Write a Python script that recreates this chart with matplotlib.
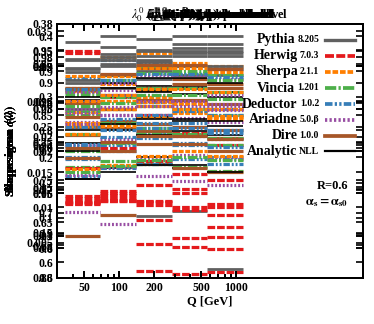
import matplotlib
matplotlib.use("Agg")
import matplotlib.pyplot as plt
from matplotlib.ticker import FixedLocator, NullFormatter

plt.rcParams['font.family'] = ['Liberation Serif', 'DejaVu Serif']
plt.rcParams['mathtext.fontset'] = 'stix'

# Q bin edges [GeV]
bin_edges = [34.4, 68.6, 139.0, 282.0, 562.0, 1143.0]

generators = ["Pythia", "Herwig", "Sherpa", "Vincia", "Deductor", "Ariadne", "Dire", "Analytic"]
versions = ["8.205", "7.0.3", "2.1.1", "1.201", "1.0.2", "5.0.β", "1.0.0", "NLL"]

# overlaid panels: values per generator per Q bin
p1_title = r"$\lambda_0^0$ ($p_T^D$), hadron level"
p1_ylabel = r"Shape mean $\langle\lambda\rangle$"
p1_ylim = (0.0, 0.42)
p1_ticks = [0.05, 0.1, 0.15, 0.2, 0.25, 0.3, 0.35, 0.4]
p1_pythia = [0.39, 0.40, 0.395, 0.40, 0.40]
p1_herwig = [0.375, 0.30, 0.27, 0.24, 0.22]
p1_sherpa = [0.31, 0.32, 0.30, 0.29, 0.28]
p1_vincia = [0.27, 0.28, 0.285, 0.28, 0.27]
p1_deductor = [0.33, 0.36, 0.355, 0.35, 0.345]
p1_ariadne = [0.22, 0.23, 0.24, 0.235, 0.23]
p1_dire = [0.25, 0.26, 0.255, 0.25, 0.245]
p1_nll = [0.295, 0.30, 0.31, 0.305, 0.30]

p2_title = r"$\lambda_0^0$ ($p_T^D$), parton level"
p2_ylabel = r"Shape sigma $\sigma(\lambda)$"
p2_ylim = (0.6, 0.99)
p2_ticks = [0.6, 0.65, 0.7, 0.75, 0.8, 0.85, 0.9, 0.95]
p2_pythia = [0.935, 0.955, 0.95, 0.96, 0.96]
p2_herwig = [0.945, 0.80, 0.78, 0.76, 0.75]
p2_sherpa = [0.91, 0.94, 0.945, 0.93, 0.925]
p2_vincia = [0.77, 0.78, 0.775, 0.77, 0.765]
p2_deductor = [0.87, 0.88, 0.87, 0.86, 0.86]
p2_ariadne = [0.84, 0.85, 0.85, 0.845, 0.84]
p2_dire = [0.82, 0.83, 0.825, 0.82, 0.815]
p2_nll = [0.89, 0.90, 0.895, 0.89, 0.885]

p3_title = r"$\lambda^1_{0.5}$ (LHA), hadron level"
p3_ylabel = r"Shape mean $\langle\lambda\rangle$"
p3_ylim = (0.88, 0.995)
p3_ticks = [0.88, 0.9, 0.92, 0.94, 0.96, 0.98]
p3_pythia = [0.975, 0.98, 0.978, 0.982, 0.982]
p3_herwig = [0.93, 0.915, 0.883, 0.882, 0.8825]
p3_sherpa = [0.955, 0.96, 0.958, 0.955, 0.952]
p3_vincia = [0.945, 0.95, 0.948, 0.945, 0.94]
p3_deductor = [0.935, 0.94, 0.945, 0.94, 0.935]
p3_ariadne = [0.96, 0.965, 0.963, 0.96, 0.958]
p3_dire = [0.965, 0.972, 0.975, 0.97, 0.968]
p3_nll = [0.925, 0.93, 0.935, 0.93, 0.928]

p4_title = r"$\lambda^1_{1}$ (width), parton level"
p4_ylabel = r"Shape sigma $\sigma(\lambda)$"
p4_ylim = (0.04, 0.1)
p4_ticks = [0.05, 0.06, 0.07, 0.08, 0.09]
p4_pythia = [0.08, 0.085, 0.087, 0.088, 0.088]
p4_herwig = [0.058, 0.0585, 0.062, 0.060, 0.0575]
p4_sherpa = [0.076, 0.08, 0.082, 0.081, 0.08]
p4_vincia = [0.084, 0.088, 0.09, 0.089, 0.088]
p4_deductor = [0.068, 0.07, 0.073, 0.072, 0.071]
p4_ariadne = [0.0556, 0.0527, 0.064, 0.063, 0.062]
p4_dire = [0.0499, 0.0549, 0.067, 0.066, 0.065]
p4_nll = [0.072, 0.075, 0.078, 0.077, 0.076]

p5_title = r"$\lambda^1_{2}$ (mass), hadron level"
p5_ylabel = r"Shape mean $\langle\lambda\rangle$"
p5_ylim = (0.05, 0.35)
p5_ticks = [0.1, 0.15, 0.2, 0.25, 0.3]
p5_pythia = [0.28, 0.29, 0.295, 0.30, 0.30]
p5_herwig = [0.145, 0.15, 0.09, 0.097, 0.098]
p5_sherpa = [0.22, 0.23, 0.24, 0.245, 0.24]
p5_vincia = [0.20, 0.21, 0.22, 0.22, 0.215]
p5_deductor = [0.17, 0.18, 0.185, 0.19, 0.185]
p5_ariadne = [0.27, 0.28, 0.29, 0.29, 0.285]
p5_dire = [0.24, 0.25, 0.26, 0.26, 0.255]
p5_nll = [0.255, 0.265, 0.27, 0.275, 0.27]

p6_title = r"$\lambda_0^0$ (multiplicity), parton level"
p6_ylabel = r"Shape sigma $\sigma(\lambda)$"
p6_ylim = (0.58, 0.9)
p6_ticks = [0.6, 0.65, 0.7, 0.75, 0.8, 0.85]
p6_pythia = [0.84, 0.85, 0.855, 0.86, 0.86]
p6_herwig = [0.675, 0.69, 0.653, 0.692, 0.644]
p6_sherpa = [0.82, 0.835, 0.845, 0.845, 0.84]
p6_vincia = [0.79, 0.80, 0.81, 0.81, 0.805]
p6_deductor = [0.77, 0.78, 0.785, 0.79, 0.785]
p6_ariadne = [0.71, 0.72, 0.73, 0.735, 0.73]
p6_dire = [0.80, 0.81, 0.82, 0.825, 0.82]
p6_nll = [0.74, 0.75, 0.76, 0.765, 0.76]

p7_title = r"$\lambda^1_{1}$ (width), hadron level"
p7_ylabel = r"Shape mean $\langle\lambda\rangle$"
p7_ylim = (0.0, 0.036)
p7_ticks = [0.005, 0.01, 0.015, 0.02, 0.025, 0.03, 0.035]
p7_pythia = [0.028, 0.03, 0.0088, 0.0095, 0.0013]
p7_herwig = [0.0105, 0.0118, 0.0108, 0.0044, 0.0041]
p7_sherpa = [0.022, 0.024, 0.025, 0.024, 0.023]
p7_vincia = [0.026, 0.028, 0.029, 0.029, 0.028]
p7_deductor = [0.019, 0.021, 0.022, 0.022, 0.021]
p7_ariadne = [0.024, 0.026, 0.027, 0.027, 0.026]
p7_dire = [0.017, 0.018, 0.019, 0.019, 0.018]
p7_nll = [0.014, 0.015, 0.016, 0.016, 0.015]

p8_title = r"$\lambda^1_{2}$ (mass), parton level"
p8_ylabel = r"Shape sigma $\sigma(\lambda)$"
p8_ylim = (0.1, 0.38)
p8_ticks = [0.15, 0.25, 0.35, 0.38]
p8_pythia = [0.33, 0.34, 0.345, 0.35, 0.35]
p8_herwig = [0.19, 0.185, 0.18, 0.175, 0.17]
p8_sherpa = [0.22, 0.225, 0.235, 0.24, 0.235]
p8_vincia = [0.29, 0.30, 0.31, 0.31, 0.305]
p8_deductor = [0.245, 0.255, 0.265, 0.265, 0.26]
p8_ariadne = [0.27, 0.28, 0.29, 0.29, 0.285]
p8_dire = [0.31, 0.325, 0.335, 0.335, 0.33]
p8_nll = [0.30, 0.31, 0.32, 0.32, 0.315]

p9_title = r"$\lambda^1_{0.5}$ (LHA), parton level"
p9_ylabel = r"Shape mean $\langle\lambda\rangle$"
p9_ylim = (0.55, 0.98)
p9_ticks = [0.6, 0.7, 0.8, 0.9]
p9_pythia = [0.92, 0.93, 0.935, 0.94, 0.94]
p9_herwig = [0.68, 0.685, 0.68, 0.67, 0.67]
p9_sherpa = [0.85, 0.86, 0.87, 0.87, 0.865]
p9_vincia = [0.73, 0.74, 0.75, 0.755, 0.75]
p9_deductor = [0.87, 0.885, 0.895, 0.895, 0.89]
p9_ariadne = [0.83, 0.84, 0.85, 0.85, 0.845]
p9_dire = [0.77, 0.78, 0.79, 0.79, 0.785]
p9_nll = [0.80, 0.81, 0.82, 0.82, 0.815]

panels = [
    (p1_title, p1_ylabel, p1_ylim, p1_ticks, [p1_pythia, p1_herwig, p1_sherpa, p1_vincia, p1_deductor, p1_ariadne, p1_dire, p1_nll]),
    (p2_title, p2_ylabel, p2_ylim, p2_ticks, [p2_pythia, p2_herwig, p2_sherpa, p2_vincia, p2_deductor, p2_ariadne, p2_dire, p2_nll]),
    (p3_title, p3_ylabel, p3_ylim, p3_ticks, [p3_pythia, p3_herwig, p3_sherpa, p3_vincia, p3_deductor, p3_ariadne, p3_dire, p3_nll]),
    (p4_title, p4_ylabel, p4_ylim, p4_ticks, [p4_pythia, p4_herwig, p4_sherpa, p4_vincia, p4_deductor, p4_ariadne, p4_dire, p4_nll]),
    (p5_title, p5_ylabel, p5_ylim, p5_ticks, [p5_pythia, p5_herwig, p5_sherpa, p5_vincia, p5_deductor, p5_ariadne, p5_dire, p5_nll]),
    (p6_title, p6_ylabel, p6_ylim, p6_ticks, [p6_pythia, p6_herwig, p6_sherpa, p6_vincia, p6_deductor, p6_ariadne, p6_dire, p6_nll]),
    (p7_title, p7_ylabel, p7_ylim, p7_ticks, [p7_pythia, p7_herwig, p7_sherpa, p7_vincia, p7_deductor, p7_ariadne, p7_dire, p7_nll]),
    (p8_title, p8_ylabel, p8_ylim, p8_ticks, [p8_pythia, p8_herwig, p8_sherpa, p8_vincia, p8_deductor, p8_ariadne, p8_dire, p8_nll]),
    (p9_title, p9_ylabel, p9_ylim, p9_ticks, [p9_pythia, p9_herwig, p9_sherpa, p9_vincia, p9_deductor, p9_ariadne, p9_dire, p9_nll]),
]

x_major = [50, 100, 200, 500, 1000]
x_minor = [40, 60, 70, 80, 90, 300, 400, 600, 700, 800, 900]

styles = [
    dict(color="#606060", linestyle="-", lw=2.0),
    dict(color="#e41a1c", linestyle=(0, (2.4, 0.6)), lw=2.3),
    dict(color="#ff7f00", linestyle=(0, (1.5, 0.5)), lw=2.3),
    dict(color="#4daf4a", linestyle=(0, (3.0, 0.6, 0.6, 0.6)), lw=2.3),
    dict(color="#377eb8", linestyle=(0, (2.0, 0.6, 0.6, 0.6, 0.6, 0.6)), lw=2.3),
    dict(color="#984ea3", linestyle=(0, (0.6, 0.6)), lw=2.3),
    dict(color="#a65628", linestyle="-", lw=2.3),
    dict(color="#000000", linestyle="-", lw=1.2),
]

W, H = 374, 324
fig = plt.figure(figsize=(W / 100, H / 100), dpi=100)
L, R, T, B = 57, 363, 24, 278
rect = [L / W, (H - B) / H, (R - L) / W, (B - T) / H]

tick_font = dict(fontsize=8.5, fontweight="bold")
axes = []
for i, (title, ylabel, ylim, yticks, series) in enumerate(panels):
    ax = fig.add_axes(rect, facecolor="none" if i else "white", label=f"p{i}")
    ax.set_xscale("log")
    ax.set_xlim(29.4, 12100)
    ax.set_ylim(*ylim)
    for vals, st in zip(series, styles):
        ax.hlines(vals, bin_edges[:-1], bin_edges[1:], colors=st["color"],
                  linestyles=[st["linestyle"]], linewidth=st["lw"])
    ax.xaxis.set_major_locator(FixedLocator(x_major))
    ax.xaxis.set_minor_locator(FixedLocator(x_minor))
    ax.xaxis.set_minor_formatter(NullFormatter())
    ax.set_yticks(yticks)
    ax.set_yticklabels([f"{t:g}" for t in yticks], **tick_font)
    ax.tick_params(which="both", direction="in", top=True, right=True, width=1.2)
    ax.tick_params(which="major", length=5, pad=3)
    ax.tick_params(which="minor", length=3)
    if i == 0:
        ax.set_xticklabels([str(v) for v in x_major], **tick_font)
        ax.set_xlabel("Q [GeV]", fontsize=9, fontweight="bold", labelpad=1)
    else:
        ax.set_xticklabels([])
    ax.set_ylabel(ylabel, fontsize=9, fontweight="bold")
    ax.yaxis.set_label_coords(-0.125, 0.5)
    ax.set_title(title, fontsize=9, fontweight="bold", pad=4)
    for sp in ax.spines.values():
        sp.set_linewidth(1.4)
    axes.append(ax)

# legend drawn gnuplot-style on the top axes
top = axes[-1]
renderer = fig.canvas.get_renderer()
def fx(px):
    return (px - L) / (R - L)
def fy(py):
    return (B - py) / (B - T)
row_y = [40, 56, 72, 88, 104, 119.5, 135.5, 151]
for name, ver, st, yp in zip(generators, versions, styles, row_y):
    tv = top.text(fx(319), fy(yp), ver, transform=top.transAxes, ha="right", va="center",
                  fontsize=7, fontweight="bold")
    bb = tv.get_window_extent(renderer)
    x_name = (bb.x0 - 2 - fig.bbox.x0)
    top.text(fx(x_name), fy(yp), name, transform=top.transAxes, ha="right", va="center",
             fontsize=10, fontweight="bold")
    top.plot([fx(325), fx(355)], [fy(yp), fy(yp)], transform=top.transAxes,
             color=st["color"], linestyle=st["linestyle"], lw=st["lw"] + 0.4, clip_on=False)

top.text(fx(348), fy(186), "R=0.6", transform=top.transAxes, ha="right", va="center",
         fontsize=9, fontweight="bold")
top.text(fx(348), fy(203), r"$\mathbf{\alpha_s{=}\alpha_{s0}}$", transform=top.transAxes,
         ha="right", va="center", fontsize=9)

fig.savefig("out.png", dpi=100)
